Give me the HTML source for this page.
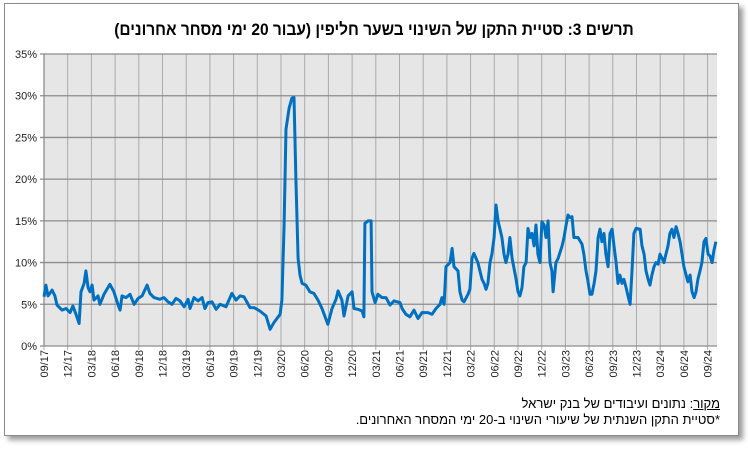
<!DOCTYPE html>
<html><head><meta charset="utf-8"><style>
body{margin:0;background:#fff;width:748px;height:449px;overflow:hidden;font-family:"Liberation Sans","DejaVu Sans",sans-serif}
#frame{position:absolute;left:4px;top:3px;width:733px;height:431px;border:1px solid #8a8a8a;box-shadow:4px 4px 5px #9a9a9a;background:#fff}
#title{position:absolute;left:0;top:20px;width:748px;text-align:center;font-weight:bold;font-size:17px;direction:rtl;font-family:"Liberation Sans","Noto Sans CJK SC",sans-serif;transform:scaleX(0.91);transform-origin:center}
.foot{position:absolute;right:28px;font-size:13px;direction:rtl;white-space:nowrap}
svg{position:absolute;left:0;top:0}
</style></head><body>
<div id="frame"></div>
<div id="title">תרשים 3: סטיית התקן של השינוי בשער חליפין (עבור 20 ימי מסחר אחרונים)</div>
<svg id="chart" width="748" height="449"></svg>
<div class="foot" style="top:396px"><u>מקור</u>: נתונים ועיבודים של בנק ישראל</div>
<div class="foot" style="top:412px">*סטיית התקן השנתית של שיעורי השינוי ב-20 ימי המסחר האחרונים.</div>
<script>
const tickLabels=["09/17","12/17","03/18","06/18","09/18","12/18","03/19","06/19","09/19","12/19","03/20","06/20","09/20","12/20","03/21","06/21","09/21","12/21","03/22","06/22","09/22","12/22","03/23","06/23","09/23","12/23","03/24","06/24","09/24"];
const yTicks=[0,5,10,15,20,25,30,35];
const times=[0,0.08,0.17,0.34,0.46,0.55,0.76,0.93,1.10,1.22,1.35,1.48,1.56,1.69,1.77,1.86,1.94,2.03,2.11,2.28,2.36,2.53,2.78,2.95,3.12,3.21,3.29,3.46,3.63,3.80,3.97,4.14,4.35,4.47,4.64,4.89,5.06,5.23,5.40,5.57,5.74,5.91,6.08,6.16,6.33,6.50,6.67,6.79,6.92,7.09,7.26,7.43,7.68,7.93,8.10,8.27,8.44,8.69,8.86,9.11,9.37,9.54,9.70,9.96,10.04,10.13,10.21,10.34,10.46,10.55,10.63,10.72,10.80,10.89,11.05,11.22,11.39,11.56,11.73,11.90,11.98,12.15,12.32,12.41,12.57,12.66,12.83,13.00,13.08,13.25,13.42,13.50,13.54,13.67,13.80,13.84,13.97,14.09,14.26,14.43,14.60,14.77,15.02,15.11,15.27,15.44,15.61,15.78,15.95,16.20,16.37,16.54,16.71,16.79,16.88,16.96,17.13,17.22,17.30,17.47,17.55,17.64,17.72,17.89,17.97,18.06,18.14,18.31,18.48,18.57,18.65,18.73,18.82,18.90,18.99,19.07,19.16,19.32,19.41,19.49,19.58,19.66,19.75,19.92,20.00,20.08,20.17,20.25,20.34,20.42,20.51,20.59,20.68,20.76,20.84,20.93,21.01,21.10,21.18,21.27,21.35,21.43,21.48,21.60,21.69,21.86,21.94,22.03,22.11,22.19,22.28,22.36,22.53,22.70,22.78,22.87,22.95,23.04,23.12,23.21,23.29,23.38,23.46,23.54,23.63,23.71,23.80,23.88,23.97,24.05,24.14,24.22,24.30,24.39,24.47,24.56,24.64,24.73,24.81,24.89,24.98,25.15,25.23,25.32,25.40,25.49,25.57,25.65,25.74,25.82,25.91,25.99,26.08,26.16,26.24,26.33,26.41,26.50,26.58,26.67,26.75,26.84,26.92,27.00,27.17,27.26,27.34,27.43,27.51,27.59,27.68,27.76,27.85,27.93,28.02,28.10,28.19,28.27,28.35];
const values=[5.9,7.3,6.0,6.7,6.0,4.9,4.3,4.5,4.0,4.8,3.8,2.7,6.5,7.5,9.0,7.0,6.5,7.3,5.5,6.0,5.0,6.2,7.4,6.5,5.0,4.3,6.0,5.8,6.2,5.0,5.7,6.0,7.3,6.3,5.8,5.6,5.8,5.3,5.0,5.7,5.4,4.7,5.6,4.5,5.8,5.4,5.8,4.5,5.2,5.3,4.4,5.0,4.7,6.3,5.5,6.0,5.9,4.6,4.6,4.2,3.6,2.0,2.8,3.8,5.5,14.5,26,28.5,29.7,29.8,20,10.5,8.5,7.5,7.3,6.5,6.3,5.5,4.5,3.2,2.6,4.5,5.6,6.6,5.5,3.6,6.0,6.5,4.5,4.4,4.2,3.5,14.7,15.0,15.0,6.5,5.2,6.2,5.8,5.8,4.9,5.4,5.2,4.5,3.8,3.5,4.3,3.3,4.0,4.0,3.8,4.5,5.0,5.8,5.0,9.5,10.0,11.7,9.5,9.0,6.5,5.5,5.3,6.2,6.8,10.5,11.1,10.0,8.0,7.5,6.8,7.5,10.0,11.0,13.0,16.9,15.0,13.0,11.0,10.0,11.0,13.0,10.5,8.0,6.5,6.0,7.0,9.5,10.0,14.1,13.0,13.5,12.0,14.5,11.0,10.0,14.9,14.5,13.0,15.0,10.0,9.0,6.5,10.0,10.5,12.0,13.0,14.5,15.7,15.4,15.5,13.0,13.0,12.2,11.0,9.0,7.8,6.2,6.2,7.5,9.0,13.0,14.0,12.5,13.5,11.0,9.5,13.5,14.0,12.0,10.0,7.5,8.5,7.5,8.0,7.0,6.0,5.0,9.0,13.5,14.1,14.0,12.0,11.0,9.0,8.0,7.3,8.5,9.5,10.0,9.8,11.0,10.5,10.0,11.0,12.0,13.5,14.0,13.0,14.3,13.5,12.5,11.0,9.5,7.7,8.5,6.5,5.8,6.5,8.0,9.0,10.0,12.5,12.9,11.0,10.8,10.0,11.5,12.5];
const svg=document.getElementById('chart');
const NS='http://www.w3.org/2000/svg';
const L=44,R=717,T=54,B=346,QW=23.7;
const xS=t=>L+t*QW;
const yS=v=>B-(v/35)*(B-T);
function mk(tag,attrs){const e=document.createElementNS(NS,tag);for(const k in attrs)e.setAttribute(k,attrs[k]);svg.appendChild(e);return e;}
const bg=mk('rect',{x:L,y:T,width:R-L,height:B-T,fill:'#e6e6e6'});


tickLabels.forEach((lab,i)=>{
  const x=xS(i);
  const g=mk('line',{x1:x,y1:T,x2:x,y2:B+4,stroke:'#ababab','stroke-width':1});
  
  
  const tx=mk('text',{x:0,y:0,transform:`translate(${x+4},${B+4}) rotate(-90)`,'text-anchor':'end','font-size':'11',fill:'#222'});
  tx.textContent=lab;
  
  
});
yTicks.forEach(v=>{
  const y=yS(v);
  const g=mk('line',{x1:L-4,y1:y,x2:R,y2:y,stroke:'#8c8c8c','stroke-width':1.3});
  
  
  const tx=mk('text',{x:L-7,y:y+4,'text-anchor':'end','font-size':'11',fill:'#222'});
  tx.textContent=v+'%';
  
  
});
const ax=mk('line',{x1:L,y1:T,x2:L,y2:B,stroke:'#8c8c8c','stroke-width':1.3});


const d=times.map((t,i)=>(i?'L':'M')+xS(t).toFixed(1)+','+yS(values[i]).toFixed(1)).join(' ');
const p=mk('path',{d:d,fill:'none',stroke:'#0070c0','stroke-width':3,'stroke-linejoin':'round'});


</script>
</body></html>
